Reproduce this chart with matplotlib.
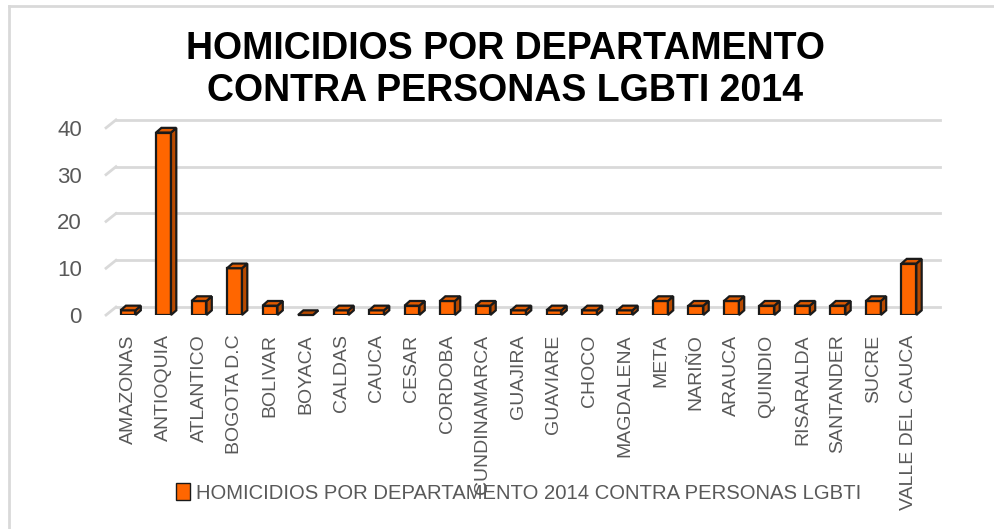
import matplotlib.pyplot as plt
from matplotlib.patches import Polygon, Rectangle
from matplotlib.lines import Line2D

departamentos = ['AMAZONAS', 'ANTIOQUIA', 'ATLANTICO', 'BOGOTA D.C', 'BOLIVAR', 'BOYACA',
                 'CALDAS', 'CAUCA', 'CESAR', 'CORDOBA', 'CUNDINAMARCA', 'GUAJIRA',
                 'GUAVIARE', 'CHOCO', 'MAGDALENA', 'META', 'NARIÑO', 'ARAUCA', 'QUINDIO',
                 'RISARALDA', 'SANTANDER', 'SUCRE', 'VALLE DEL CAUCA']
homicidios = [1, 39, 3, 10, 2, 0, 1, 1, 2, 3, 2, 1, 1, 1, 1, 3, 2, 3, 2, 2, 2, 3, 11]
yticks = [0, 10, 20, 30, 40]
serie = 'HOMICIDIOS POR DEPARTAMENTO 2014 CONTRA PERSONAS LGBTI'
titulo = 'HOMICIDIOS POR DEPARTAMENTO\nCONTRA PERSONAS LGBTI 2014'

plt.rcParams['font.family'] = ['Liberation Sans', 'DejaVu Sans']
gris = '#595959'
naranja = '#FF6600'
lado = '#B84A00'
arriba = '#E05A00'

fig = plt.figure(figsize=(9.95, 5.29), dpi=100)
ax = fig.add_axes([0.1005, 0.4045, 0.849, 0.3715])
ax.set_xlim(-0.79, 23.01)
ax.set_ylim(0, 42)

# 3d-like gridlines (back wall + diagonal to front)
for v in yticks:
    ax.plot([-0.34, 22.87], [v + 1.7, v + 1.7], color='#d9d9d9', lw=2, zorder=1, clip_on=False)
    ax.plot([-0.62, -0.34], [v, v + 1.7], color='#d9d9d9', lw=2, zorder=1, clip_on=False)

w = 0.42
dx, dy = 0.15, 1.0
x = list(range(len(departamentos)))
ax.bar(x, homicidios, width=w, color=naranja, edgecolor='#1a1a1a', linewidth=1.6, zorder=3)
for xi, v in zip(x, homicidios):
    side = [(xi + w / 2, 0), (xi + w / 2 + dx, dy), (xi + w / 2 + dx, v + dy), (xi + w / 2, v)]
    top = [(xi - w / 2, v), (xi - w / 2 + dx, v + dy), (xi + w / 2 + dx, v + dy), (xi + w / 2, v)]
    ax.add_patch(Polygon(side, closed=True, facecolor=lado, edgecolor='#1a1a1a', lw=1.6, zorder=3, clip_on=False))
    ax.add_patch(Polygon(top, closed=True, facecolor=arriba if v > 0 else lado,
                         edgecolor='#1a1a1a', lw=1.6, zorder=3, clip_on=False))

for s in ax.spines.values():
    s.set_visible(False)
ax.set_yticks(yticks)
ax.set_yticklabels([str(t) for t in yticks], fontsize=16, color=gris)
ax.tick_params(axis='y', length=0, pad=13)
ax.set_xticks(x)
ax.set_xticklabels(departamentos, rotation=90, fontsize=14, color=gris)
ax.tick_params(axis='x', length=0, pad=14)

fig.text(0.508, 0.868, titulo, ha='center', va='center', fontsize=27, fontweight='bold',
         linespacing=1.22, color='black')

handle = Rectangle((0, 0), 1, 1, facecolor=naranja, edgecolor='#1a1a1a', lw=1)
fig.legend([handle], [serie], loc='center', bbox_to_anchor=(0.521, 0.068), frameon=False,
           fontsize=14.6, handlelength=0.7, handleheight=0.9, handletextpad=0.3,
           labelcolor=gris)

# chart frame
fig.add_artist(Line2D([9 / 995, 1], [1 - 6 / 529, 1 - 6 / 529], transform=fig.transFigure, color='#d9d9d9', lw=2))
fig.add_artist(Line2D([9 / 995, 9 / 995], [0, 1 - 6 / 529], transform=fig.transFigure, color='#d9d9d9', lw=2))

fig.savefig('out.png', dpi=100)
